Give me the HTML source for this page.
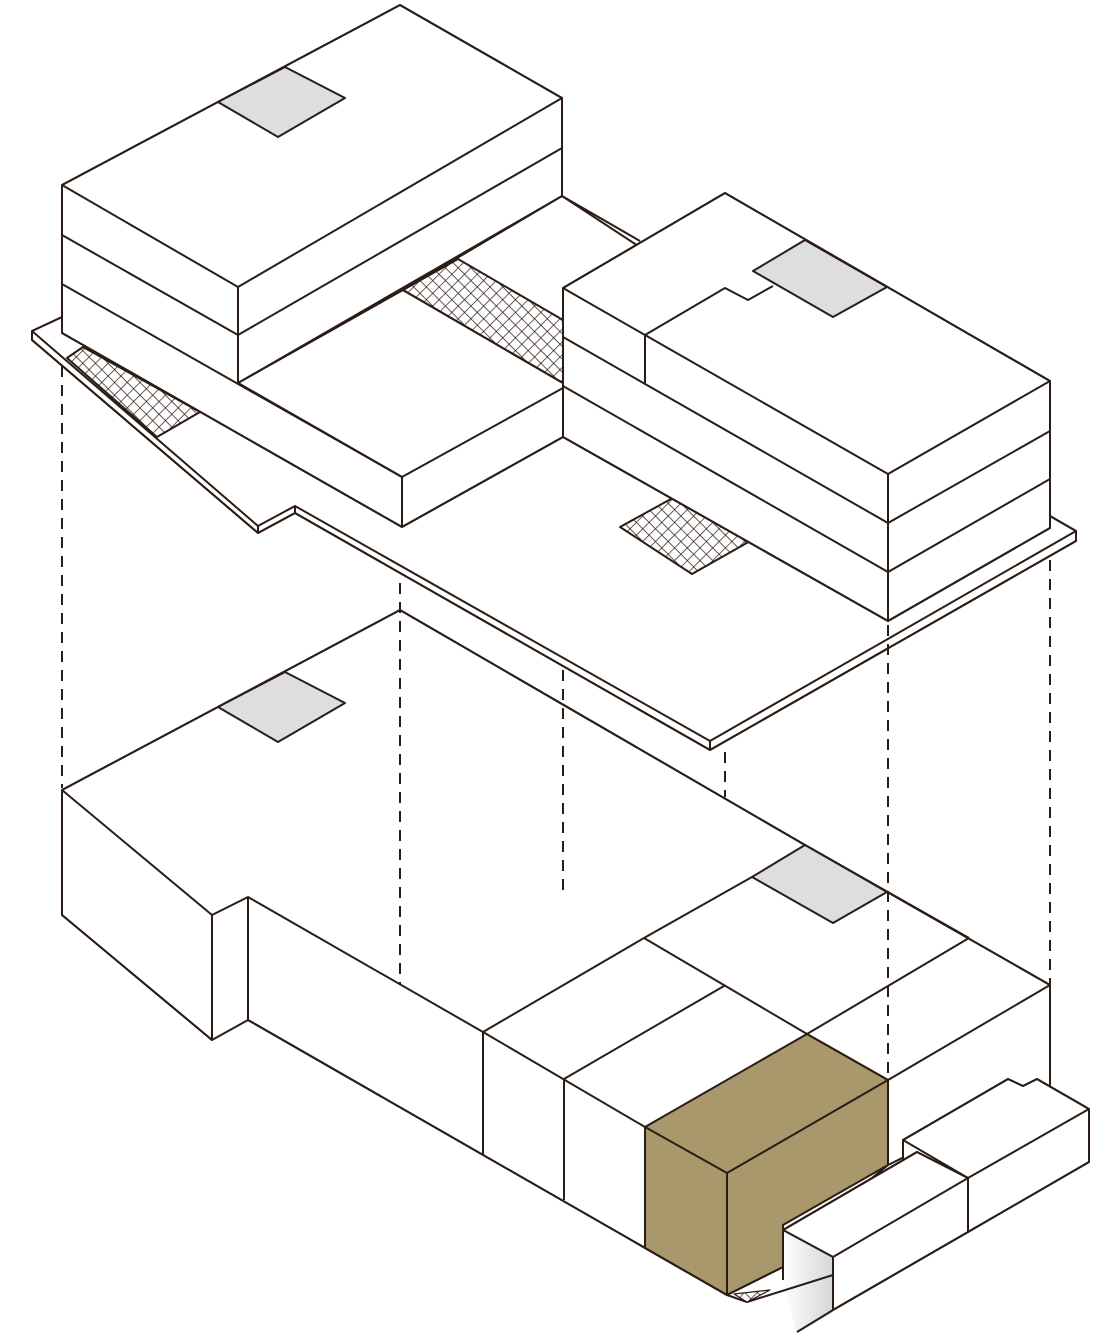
<!DOCTYPE html>
<html><head><meta charset="utf-8"><style>
html,body{margin:0;padding:0;background:#fff;}
svg{display:block;}
</style></head><body>
<svg width="1100" height="1340" viewBox="0 0 1100 1340" xmlns="http://www.w3.org/2000/svg">
<defs>
<pattern id="hx" width="9" height="9" patternUnits="userSpaceOnUse" patternTransform="rotate(45)">
<rect width="9" height="9" fill="#fff"/>
<path d="M0 0H9M0 0V9" stroke="#2b1d16" stroke-width="1.4"/>
</pattern>
<linearGradient id="sh" x1="0" y1="0" x2="1" y2="0">
<stop offset="0" stop-color="#fff"/><stop offset="1" stop-color="#d6d6d6"/>
</linearGradient>
</defs>
<g stroke="#2b1d16" stroke-width="2" stroke-linejoin="round" fill="none">

<!-- ===== LOWER BUILDING ===== -->
<polygon fill="#fff" points="62,790 400,610 805,845 1050,985 1050,1085 888,1165 727,1295 248,1020 248,1020 212,1040 62,915"/>
<polyline points="62,790 400,610 805,845 1050,985 1050,1085"/>
<polyline points="62,790 62,915 212,1040 212,915 62,790"/>
<polyline points="212,915 248,897 248,1020 727,1295"/>
<polyline points="248,897 483,1032 645,1127"/>
<line x1="483" y1="1032" x2="483" y2="1155"/>
<line x1="564" y1="1079" x2="564" y2="1200"/>
<polyline points="483,1032 644,938 752,877"/>
<polyline points="644,938 807,1034"/>
<polyline points="564,1079 724,986"/>
<polyline points="807,1034 969,938"/>
<polyline points="888,1080 1050,985"/>
<polyline points="805,845 969,938"/>
<polygon fill="#dedede" points="218,707 285,672 345,703 278,742"/>
<polygon fill="#dedede" points="752,877 805,845 887,892 833,923"/>

<!-- brown box -->
<polygon fill="#a8986c" points="645,1127 807,1034 888,1080 888,1165 783,1225 783,1267 727,1295 645,1248"/>
<polyline points="645,1127 727,1173 888,1080"/>
<polyline points="807,1034 888,1080 888,1165"/>
<line x1="727" y1="1173" x2="727" y2="1295"/>
<line x1="645" y1="1127" x2="645" y2="1248"/>
<polyline points="645,1248 727,1295 783,1267"/>

<!-- right white blocks -->
<polygon fill="#fff" points="903,1140 1008,1079 1023,1086 1037,1079 1089,1109 1089,1162 968,1232 903,1195"/>
<polyline points="903,1158 903,1140 1008,1079 1023,1086 1037,1079 1089,1109 968,1178 903,1140"/>
<line x1="1089" y1="1109" x2="1089" y2="1162"/>
<line x1="968" y1="1178" x2="968" y2="1232"/>
<line x1="968" y1="1232" x2="1089" y2="1162"/>
<polygon fill="#fff" points="783,1230 917,1152 968,1178 968,1232 833,1310 833,1257"/>
<polygon fill="url(#sh)" stroke="none" points="783,1230 833,1257 833,1312 797,1334 783,1280"/>
<polyline points="783,1280 783,1230 917,1152 968,1178 833,1257 783,1230"/>
<line x1="833" y1="1257" x2="833" y2="1310"/>
<line x1="833" y1="1310" x2="968" y2="1232"/>
<line x1="797" y1="1332" x2="833" y2="1310"/>
<polyline points="727,1295 747,1302 833,1275"/>
<polygon fill="url(#hx)" stroke-width="1.2" points="734,1294 770,1290 747,1302"/>

<!-- ===== UPPER SLAB ===== -->
<polygon fill="#fff" points="32,331 62,317 562,196 1050,516 1076,531 1076,541 710,750 295,513 258,533 32,340"/>
<polyline points="62,317 32,331 258,526 295,506 710,741 1076,531 1050,516"/>
<polyline points="32,331 32,340 258,533 295,513 710,750 1076,541 1076,531"/>
<line x1="258" y1="526" x2="258" y2="533"/>
<line x1="295" y1="506" x2="295" y2="513"/>
<line x1="710" y1="741" x2="710" y2="750"/>
<line x1="562" y1="196" x2="640" y2="241"/>

<!-- hatches -->
<polygon fill="url(#hx)" points="67,358 83,347 200,412 157,437"/>
<polygon fill="url(#hx)" points="620,527 680,494 752,540 692,574"/>

<!-- left tall building -->
<polygon fill="#fff" points="62,185 400,5 562,98 562,196 403,290 402,527 62,333"/>
<polyline points="62,185 400,5 562,98 238,287 62,185"/>
<line x1="62" y1="185" x2="62" y2="333"/>
<line x1="238" y1="287" x2="238" y2="383"/>
<line x1="562" y1="98" x2="562" y2="196"/>
<line x1="62" y1="235" x2="238" y2="335"/>
<line x1="238" y1="335" x2="562" y2="148"/>
<line x1="62" y1="284" x2="402" y2="477"/>
<line x1="238" y1="383" x2="562" y2="196"/>
<line x1="62" y1="333" x2="402" y2="527"/>
<polygon fill="#dedede" points="218,102 285,67 345,98 278,137"/>
<!-- middle block -->
<polygon fill="#fff" points="238,383 403,290 563,383 563,437 402,527 402,477"/>
<polygon fill="url(#hx)" points="403,290 458,259 563,320 563,383"/>
<line x1="403" y1="290" x2="563" y2="383"/>
<polyline points="402,477 563,388"/>
<line x1="402" y1="477" x2="402" y2="527"/>
<line x1="402" y1="527" x2="563" y2="437"/>
<line x1="238" y1="383" x2="402" y2="477"/>

<!-- right building -->
<polygon fill="#fff" points="563,288 725,193 1050,381 1050,528 888,621 563,437"/>
<polyline points="563,288 725,193 1050,381 888,474 645,335 563,288"/>
<polyline points="645,335 725,288 748,300 773,286"/>
<polygon fill="#dedede" points="753,271 805,240 887,287 833,317"/>
<line x1="563" y1="288" x2="563" y2="437"/>
<line x1="645" y1="335" x2="645" y2="383"/>
<line x1="888" y1="474" x2="888" y2="621"/>
<line x1="1050" y1="381" x2="1050" y2="528"/>
<line x1="563" y1="337" x2="888" y2="523"/>
<line x1="563" y1="386" x2="888" y2="572"/>
<line x1="563" y1="437" x2="888" y2="621"/>
<line x1="888" y1="523" x2="1050" y2="431"/>
<line x1="888" y1="572" x2="1050" y2="479"/>
<line x1="888" y1="621" x2="1050" y2="528"/>

<!-- dashed lines -->
<g stroke-dasharray="11,8">
<line x1="62" y1="366" x2="62" y2="788"/>
<line x1="400" y1="583" x2="400" y2="985"/>
<line x1="563" y1="670" x2="563" y2="892"/>
<line x1="725" y1="752" x2="725" y2="797"/>
<line x1="888" y1="625" x2="888" y2="1078"/>
<line x1="1050" y1="560" x2="1050" y2="985"/>
</g>
</g>
</svg>
</body></html>
